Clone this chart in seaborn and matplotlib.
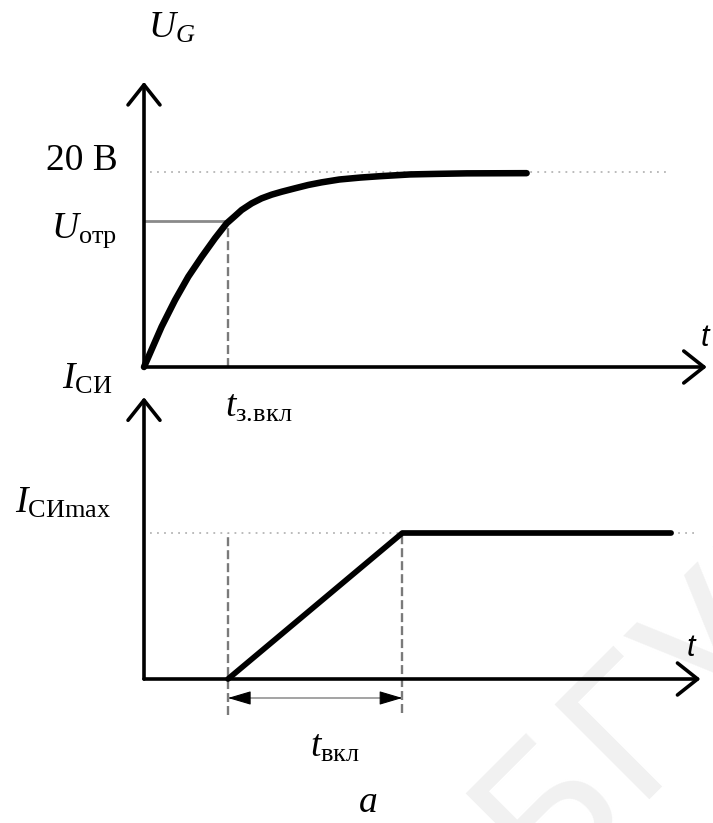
import matplotlib
matplotlib.use("Agg")
import matplotlib.pyplot as plt
import seaborn as sns
import pandas as pd

# Gate voltage U_G(t) while the transistor is switched on, volts
t_gate = [0, 0.84, 1.48, 2.11, 2.75, 3.38, 3.94, 4.33, 4.65, 5.13, 5.6, 6.08,
          6.56, 7.19, 7.82, 8.46, 9.3, 10.3, 11.24, 12.67, 14.0, 15.37, 18.22]
u_gate = [0, 4.13, 6.86, 9.25, 11.29, 13.18, 14.72, 15.46, 16.08, 16.76, 17.27, 17.65,
          17.95, 18.3, 18.64, 18.91, 19.2, 19.4, 19.54, 19.72, 19.78, 19.83, 19.85]

# Drain-source current I_СИ(t), as a fraction of I_СИmax
t_drain = [4.0, 12.3, 25.1]
i_drain = [0.0, 1.0, 1.0]

u_full = 20.0        # 20 В level
u_thr = 15.0         # U_отр
t_delay = 4.0        # t_з.вкл
t_on_end = 12.3      # end of t_вкл
i_max = 1.0          # I_СИmax

gate_df = pd.DataFrame({"t": t_gate, "U": u_gate})
drain_df = pd.DataFrame({"t": t_drain, "I": i_drain})

sns.set_theme(style="white")
plt.rcParams["mathtext.fontset"] = "custom"
plt.rcParams["mathtext.rm"] = "Liberation Serif"
plt.rcParams["mathtext.it"] = "Liberation Serif:italic"
plt.rcParams["mathtext.bf"] = "Liberation Serif:bold"
plt.rcParams["font.family"] = ["Liberation Serif", "DejaVu Sans"]

W, H = 713, 823
fig = plt.figure(figsize=(W / 100, H / 100), dpi=100)
fig.patch.set_facecolor("white")

PX_T = 21.0       # pixels per time unit
PX_U = 9.765      # pixels per volt
PX_I = 146.0      # pixels per I_СИmax

ax1 = fig.add_axes([144 / W, 1 - 367 / H, (W - 144) / W, (367 - 60) / H])
ax2 = fig.add_axes([144 / W, 1 - 679 / H, (W - 144) / W, (679 - 390) / H])
ax1.set_xlim(0, (W - 144) / PX_T)
ax1.set_ylim(0, (367 - 60) / PX_U)
ax2.set_xlim(0, (W - 144) / PX_T)
ax2.set_ylim(0, (679 - 390) / PX_I)
for ax in (ax1, ax2):
    ax.axis("off")

# watermark
fig.text(543 / W, 1 - 888 / H, "БГУИР", rotation=45, rotation_mode="anchor",
         ha="left", va="baseline", fontsize=132, color="#f1f1f1",
         family="DejaVu Sans", zorder=-5)

axis_arrow = dict(arrowstyle="->,head_length=1.45,head_width=1.15", lw=2.6,
                  color="black", shrinkA=0, shrinkB=0, mutation_scale=10)


def draw_axes(ax, x_end, y_end):
    ax.annotate("", xy=(x_end, 0), xytext=(0, 0), arrowprops=axis_arrow,
                annotation_clip=False)
    ax.annotate("", xy=(0, y_end), xytext=(0, 0), arrowprops=axis_arrow,
                annotation_clip=False)


dotted = dict(color="#b5b5b5", lw=1.3, ls=(0, (1, 2.9)), clip_on=False)
dashed = dict(color="#7a7a7a", lw=1.7, ls=(0, (3.8, 1.7)), clip_on=False)

# ---- upper panel: gate voltage ----
ax1.plot([0.3, 25.05], [u_full, u_full], **dotted)
ax1.plot([0, t_delay], [u_thr, u_thr], color="#8a8a8a", lw=2.0, clip_on=False)
ax1.plot([t_delay, t_delay], [0, u_thr], **dashed)
sns.lineplot(data=gate_df, x="t", y="U", ax=ax1, color="black", lw=4.7,
             sort=False, estimator=None, solid_capstyle="round",
             solid_joinstyle="round", clip_on=False)
draw_axes(ax1, 26.8, 29.2)

lab = dict(fontsize=27, color="black")
ax1.text(0.19, 33.7, r"$U_G$", ha="left", va="baseline", **lab)
ax1.text(-1.24, u_full + 0.17, "20 В", ha="right", va="baseline", **lab)
ax1.text(-1.29, u_thr - 1.7, r"$U_{\mathrm{отр}}$", ha="right", va="baseline", **lab)
ax1.text(t_delay - 0.14, -5.12, r"$t_{\mathrm{з.\!вкл}}$", ha="left", va="baseline", **lab)
ax1.text(26.7, 2.97, "t", ha="center", va="center", fontsize=22,
         family="Liberation Sans", style="italic", color="black")

# ---- lower panel: drain current ----
ax2.plot([0.3, 26.2], [i_max, i_max], **dotted)
ax2.plot([t_delay, t_delay], [-0.245, i_max], **dashed)
ax2.plot([t_on_end, t_on_end], [-0.23, i_max], **dashed)
sns.lineplot(data=drain_df, x="t", y="I", ax=ax2, color="black", lw=4.1,
             sort=False, estimator=None, solid_capstyle="round",
             solid_joinstyle="round", clip_on=False)
draw_axes(ax2, 26.5, 1.93)

# t_вкл dimension arrow
y_dim = -0.13
ax2.plot([t_delay, t_on_end], [y_dim, y_dim], color="#8a8a8a", lw=1.1, clip_on=False)
head = dict(arrowstyle="-|>,head_length=1.45,head_width=0.43", color="black",
            lw=0.8, shrinkA=0, shrinkB=0, mutation_scale=10)
ax2.annotate("", xy=(t_delay, y_dim), xytext=(t_delay + 0.95, y_dim),
             arrowprops=head, annotation_clip=False)
ax2.annotate("", xy=(t_on_end, y_dim), xytext=(t_on_end - 0.95, y_dim),
             arrowprops=head, annotation_clip=False)

ax2.text(-3.9, 1.99, r"$I_{\mathrm{СИ}}$", ha="left", va="baseline", **lab)
ax2.text(-6.14, 1.137, r"$I_{\mathrm{СИmax}}$", ha="left", va="baseline", **lab)
ax2.text(7.9, -0.534, r"$t_{\mathrm{вкл}}$", ha="left", va="baseline", **lab)
ax2.text(10.2, -0.91, r"$a$", ha="left", va="baseline", **lab)
ax2.text(26.05, 0.212, "t", ha="center", va="center", fontsize=22,
         family="Liberation Sans", style="italic", color="black")

fig.savefig("out.png", dpi=100, facecolor="white")
